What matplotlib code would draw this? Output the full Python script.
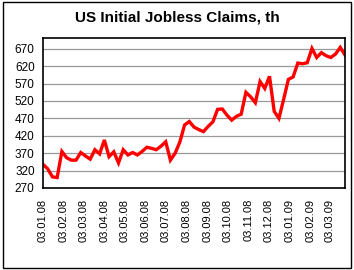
import datetime as dt
import matplotlib
matplotlib.use("Agg")
import matplotlib.pyplot as plt
from matplotlib.patches import Rectangle

# weekly initial jobless claims, thousands, starting 03.01.08
start = dt.date(2008, 1, 3)
claims = [338, 325, 302, 300, 375, 357, 350, 350, 372, 362,
          353, 380, 368, 408, 360, 374, 342, 380, 365, 372,
          365, 375, 387, 384, 380, 390, 403, 350, 370, 402,
          451, 461, 445, 438, 432, 447, 460, 496, 497, 479,
          465, 476, 482, 545, 532, 515, 576, 556, 591, 490,
          470, 525, 582, 589, 629, 627, 630, 671, 645, 659,
          650, 645, 655, 674, 652]
tick_labels = ["03.01.08", "03.02.08", "03.03.08", "03.04.08", "03.05.08",
               "03.06.08", "03.07.08", "03.08.08", "03.09.08", "03.10.08",
               "03.11.08", "03.12.08", "03.01.09", "03.02.09", "03.03.09"]
yticks = [270, 320, 370, 420, 470, 520, 570, 620, 670]

weeks = list(range(len(claims)))
tick_pos = []
for lab in tick_labels:
    d, m, y = lab.split(".")
    day = dt.date(2000 + int(y), int(m), int(d))
    tick_pos.append((day - start).days / 7.0)

plt.rcParams['font.family'] = ['Liberation Sans', 'DejaVu Sans']

fig = plt.figure(figsize=(3.54, 2.70), dpi=100)
fig.patches.append(Rectangle((0.008, 0.008), 0.984, 0.984, transform=fig.transFigure,
                             fill=False, edgecolor='black', linewidth=1.0))
ax = fig.add_axes([43 / 354, 1 - 188 / 270, (345 - 43) / 354, (188 - 38) / 270])

ax.plot(weeks, claims, color='#ff0000', linewidth=2.4, solid_joinstyle='miter')

ax.set_xlim(0, len(claims) - 1)
ax.set_ylim(270, 701)
ax.set_yticks(yticks)
ax.set_xticks(tick_pos)
ax.set_xticklabels(tick_labels, rotation=90, fontsize=8)
ax.tick_params(axis='y', labelsize=8.5, length=0, pad=6)
ax.tick_params(axis='x', length=0, pad=8)
ax.grid(axis='y', color='#999999', linewidth=0.9)
ax.set_axisbelow(True)
for s in ax.spines.values():
    s.set_linewidth(1.2)
    s.set_color('black')

fig.text(0.5, 1 - 18 / 270, "US Initial Jobless Claims, th", ha='center', va='center',
         fontsize=11, fontweight='bold')

fig.savefig("out.png", dpi=100)
